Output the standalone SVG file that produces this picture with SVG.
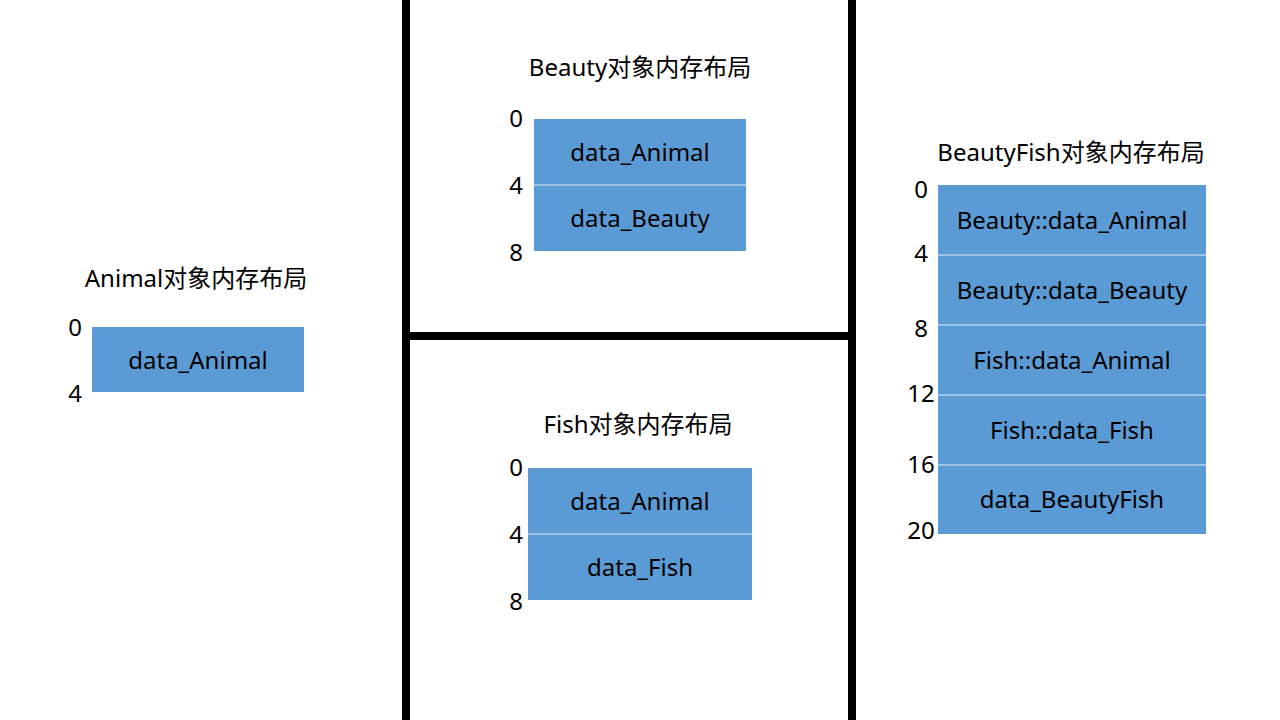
<svg xmlns="http://www.w3.org/2000/svg" width="1280" height="720" viewBox="0 0 1280 720">
<style>
text{font-family:"Noto Sans","Noto Sans CJK SC",sans-serif;fill:#000}
.t{font-size:24px;text-anchor:middle}
.c{font-size:24px;text-anchor:middle;dominant-baseline:central}
.n{font-size:24px;text-anchor:middle;dominant-baseline:central}
.box{fill:#5B9BD5}
.div{stroke:#DDEBF7;stroke-width:1.2}
.sep{fill:#000}
</style>
<g id="separators">
<rect class="sep" x="402" y="0" width="8" height="720"/>
<rect class="sep" x="848" y="0" width="8" height="720"/>
<rect class="sep" x="402" y="332" width="454" height="8"/>
</g>
<g id="animal">
<text class="t" x="196" y="287">Animal对象内存布局</text>
<rect class="box" x="92" y="327" width="212" height="65"/>
<text class="c" x="198" y="359">data_Animal</text>
<text class="n" x="75" y="326">0</text>
<text class="n" x="75" y="392">4</text>
</g>
<g id="beauty">
<text class="t" x="640" y="76">Beauty对象内存布局</text>
<rect class="box" x="534" y="119" width="212" height="132"/>
<line class="div" x1="534" y1="185" x2="746" y2="185"/>
<text class="c" x="640" y="151">data_Animal</text>
<text class="c" x="640" y="217">data_Beauty</text>
<text class="n" x="516" y="117">0</text>
<text class="n" x="516" y="184">4</text>
<text class="n" x="516" y="251">8</text>
</g>
<g id="fish">
<text class="t" x="638" y="433">Fish对象内存布局</text>
<rect class="box" x="528" y="468" width="224" height="132"/>
<line class="div" x1="528" y1="534" x2="752" y2="534"/>
<text class="c" x="640" y="500">data_Animal</text>
<text class="c" x="640" y="566">data_Fish</text>
<text class="n" x="516" y="466">0</text>
<text class="n" x="516" y="533">4</text>
<text class="n" x="516" y="600">8</text>
</g>
<g id="beautyfish">
<text class="t" x="1071" y="161">BeautyFish对象内存布局</text>
<rect class="box" x="938" y="185" width="268" height="349"/>
<line class="div" x1="938" y1="255" x2="1206" y2="255"/>
<line class="div" x1="938" y1="325" x2="1206" y2="325"/>
<line class="div" x1="938" y1="395" x2="1206" y2="395"/>
<line class="div" x1="938" y1="465" x2="1206" y2="465"/>
<text class="c" x="1072" y="219">Beauty::data_Animal</text>
<text class="c" x="1072" y="289">Beauty::data_Beauty</text>
<text class="c" x="1072" y="359">Fish::data_Animal</text>
<text class="c" x="1072" y="429">Fish::data_Fish</text>
<text class="c" x="1072" y="498">data_BeautyFish</text>
<text class="n" x="921" y="188">0</text>
<text class="n" x="921" y="252">4</text>
<text class="n" x="921" y="327">8</text>
<text class="n" x="921" y="392">12</text>
<text class="n" x="921" y="463">16</text>
<text class="n" x="921" y="529">20</text>
</g>
</svg>
